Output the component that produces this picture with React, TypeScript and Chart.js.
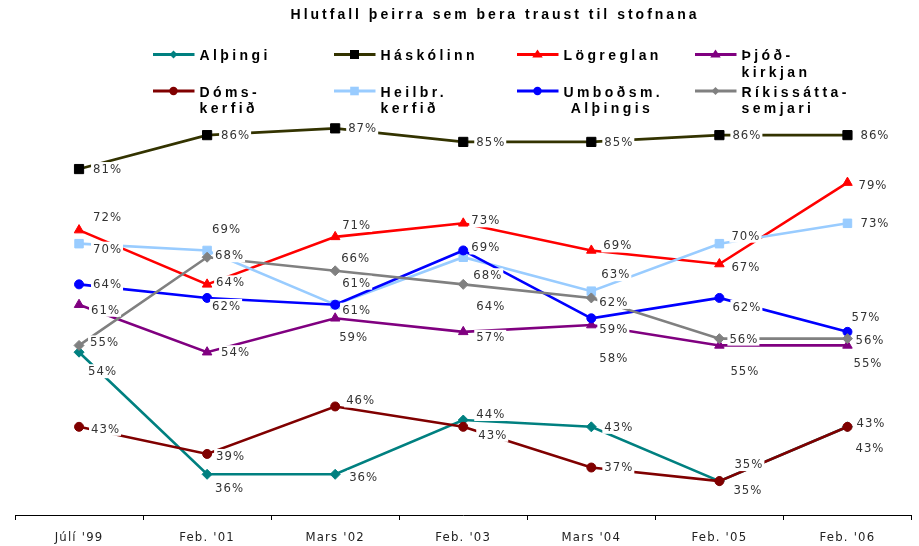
import React, { useEffect, useRef } from 'react';
import { Chart, registerables } from 'chart.js';

Chart.register(...registerables);

// ---------- data ----------
const categories = ["Júlí '99", "Feb. '01", "Mars '02", "Feb. '03", "Mars '04", "Feb. '05", "Feb. '06"];

const althingi = [54, 36, 36, 44, 43, 35, 43];
const haskolinn = [81, 86, 87, 85, 85, 86, 86];
const logreglan = [72, 64, 71, 73, 69, 67, 79];
const thjodkirkjan = [61, 54, 59, 57, 58, 55, 55];
const domskerfid = [43, 39, 46, 43, 37, 35, 43];
const heilbrigdiskerfid = [70, 69, 61, 68, 63, 70, 73];
const umbodsmadur = [64, 62, 61, 69, 59, 62, 57];
const rikissattasemjari = [55, 68, 66, 64, 62, 56, 56];

const seriesNames = [
  'Alþingi',
  'Háskólinn',
  'Lögreglan',
  'Þjóðkirkjan',
  'Dómskerfið',
  'Heilbr. kerfið',
  'Umboðsm. Alþingis',
  'Ríkissáttasemjari',
];

const legendLines = [
  ['Alþingi'],
  ['Háskólinn'],
  ['Lögreglan'],
  ['Þjóð-', 'kirkjan'],
  ['Dóms-', 'kerfið'],
  ['Heilbr.', 'kerfið'],
  ['Umboðsm.', ' Alþingis'],
  ['Ríkissátta-', 'semjari'],
];

const titleText = 'Hlutfall þeirra sem bera traust til stofnana';

const seriesValues = [
  althingi,
  haskolinn,
  logreglan,
  thjodkirkjan,
  domskerfid,
  heilbrigdiskerfid,
  umbodsmadur,
  rikissattasemjari,
];

// ---------- styles ----------
const lineColors = ['#008080', '#333300', '#FF0000', '#800080', '#800000', '#99CCFF', '#0000FF', '#808080'];
const markerColors = ['#008080', '#000000', '#FF0000', '#800080', '#800000', '#99CCFF', '#0000FF', '#808080'];
const pointStyles = ['rectRot', 'rect', 'triangle', 'triangle', 'circle', 'rect', 'circle', 'rectRot'];
const pointRadii = [5, 6.5, 5.5, 5.5, 4.5, 6, 4.5, 5];

// label offsets [dx to left edge, dy to centre] relative to each point
const labelOffsets = [
  [[9, 19], [8, 14], [14, 3], [13, -6], [13, 0], [14, 9], [8, 21]],
  [[14, 0], [14, 0], [13, 0], [13, 0], [13, 0], [13, 0], [13, 0]],
  [[14, -13], [9, -2], [7, -12], [8, -3], [12, -5], [12, 3], [11, 3]],
  [[12, 5], [14, 0], [4, 19], [13, 5], [8, 33], [11, 26], [6, 18]],
  [[12, 2], [9, 2], [11, -6], [15, 8], [13, 0], [15, -17], [9, -4]],
  [[14, 5], [5, -21], [7, -22], [10, 18], [10, -17], [12, -8], [13, 0]],
  [[14, 0], [5, 8], [7, 5], [8, -3], [8, 11], [13, 9], [4, -15]],
  [[11, -3], [8, -2], [6, -13], [13, 22], [8, 4], [10, 0], [8, 1]],
];

const legendCols = [153, 334, 517, 695];
const legendRows = [54.5, 91];

const narrowFont = '"Liberation Sans Narrow", "Arial Narrow", "DejaVu Sans Condensed", sans-serif';
const boldFont = '"Liberation Sans", Arial, sans-serif';

function drawMarker(ctx: CanvasRenderingContext2D, style: string, x: number, y: number, r: number, color: string) {
  ctx.fillStyle = color;
  ctx.beginPath();
  if (style === 'circle') {
    ctx.arc(x, y, r, 0, Math.PI * 2);
  } else if (style === 'rect') {
    ctx.rect(x - r, y - r, 2 * r, 2 * r);
  } else if (style === 'rectRot') {
    ctx.moveTo(x, y - r);
    ctx.lineTo(x + r, y);
    ctx.lineTo(x, y + r);
    ctx.lineTo(x - r, y);
    ctx.closePath();
  } else {
    ctx.moveTo(x, y - r);
    ctx.lineTo(x + r * 1.05, y + r * 0.6);
    ctx.lineTo(x - r * 1.05, y + r * 0.6);
    ctx.closePath();
  }
  ctx.fill();
}

const legendMarkerSizes = [4, 4.5, 5, 5, 4.2, 4.3, 4.2, 4];

const decorPlugin = {
  id: 'decor',
  beforeDraw(chart: any) {
    const ctx = chart.ctx as CanvasRenderingContext2D;
    (ctx as any).letterSpacing = '1.2px';
  },
  afterDatasetsDraw(chart: any) {
    const ctx = chart.ctx as CanvasRenderingContext2D;
    ctx.save();
    ctx.font = `13px ${narrowFont}`;
    (ctx as any).letterSpacing = '1px';
    ctx.textBaseline = 'middle';
    ctx.textAlign = 'left';
    chart.data.datasets.forEach((ds: any, i: number) => {
      const meta = chart.getDatasetMeta(i);
      meta.data.forEach((pt: any, j: number) => {
        const text = `${ds.data[j]}%`;
        const [dx, dy] = labelOffsets[i][j];
        const lx = pt.x + dx;
        const cy = pt.y + dy;
        const w = ctx.measureText(text).width;
        ctx.fillStyle = '#ffffff';
        ctx.fillRect(lx - 2, cy - 7, w + 3, 14);
        ctx.fillStyle = '#333333';
        ctx.fillText(text, lx, cy + 0.5);
      });
    });
    ctx.restore();
  },
  afterDraw(chart: any) {
    const ctx = chart.ctx as CanvasRenderingContext2D;
    ctx.save();
    // title
    ctx.font = `bold 14px ${boldFont}`;
    (ctx as any).letterSpacing = '3px';
    ctx.fillStyle = '#000000';
    ctx.textAlign = 'center';
    ctx.textBaseline = 'alphabetic';
    ctx.fillText(titleText, 495, 19);

    // legend
    ctx.textAlign = 'left';
    (ctx as any).letterSpacing = '3.4px';
    legendLines.forEach((lines, i) => {
      const col = i % 4;
      const row = Math.floor(i / 4);
      const x0 = legendCols[col];
      const y0 = legendRows[row];
      ctx.strokeStyle = lineColors[i];
      ctx.lineWidth = 3;
      ctx.beginPath();
      ctx.moveTo(x0, y0);
      ctx.lineTo(x0 + 41.5, y0);
      ctx.stroke();
      drawMarker(ctx, pointStyles[i], x0 + 20.5, y0, legendMarkerSizes[i], markerColors[i]);
      ctx.fillStyle = '#000000';
      lines.forEach((ln, k) => {
        ctx.fillText(ln, x0 + 46.5, y0 + 5.5 + k * 16.5);
      });
    });
    ctx.restore();
  },
};

export default function App() {
  const canvasRef = useRef<HTMLCanvasElement | null>(null);

  useEffect(() => {
    if (!canvasRef.current) return;
    const datasets = seriesValues.map((vals, i) => ({
      label: seriesNames[i],
      data: vals,
      borderColor: lineColors[i],
      backgroundColor: markerColors[i],
      pointBackgroundColor: markerColors[i],
      pointBorderColor: markerColors[i],
      pointStyle: pointStyles[i],
      pointRadius: pointRadii[i],
      pointBorderWidth: 1,
      borderWidth: 2.6,
      tension: 0,
      order: seriesValues.length - i,
    }));

    const chart = new Chart(canvasRef.current, {
      type: 'line',
      data: { labels: categories, datasets },
      plugins: [decorPlugin],
      options: {
        responsive: false,
        animation: false,
        events: [],
        layout: { padding: { top: 108, left: 15, right: 7, bottom: 0 } },
        plugins: {
          legend: { display: false },
          title: { display: false },
          tooltip: { enabled: false },
        },
        scales: {
          x: {
            type: 'category',
            offset: true,
            afterFit: (scale: any) => {
              scale.height = 31;
            },
            grid: {
              offset: true,
              drawOnChartArea: false,
              drawTicks: true,
              tickLength: 5,
              color: '#000000',
              lineWidth: 1,
            },
            border: { display: true, color: '#000000', width: 1 },
            ticks: {
              color: '#222222',
              font: { family: narrowFont, size: 13 },
              padding: 10,
              maxRotation: 0,
              autoSkip: false,
            },
          },
          y: {
            display: false,
            min: 30,
            max: 90,
          },
        },
      },
    });
    return () => chart.destroy();
  }, []);

  return (
    <div style={{ position: 'fixed', left: 0, top: 0, width: 919, height: 546, overflow: 'hidden', background: '#fff' }}>
      <canvas ref={canvasRef} width={919} height={546} style={{ display: 'block' }} />
    </div>
  );
}
